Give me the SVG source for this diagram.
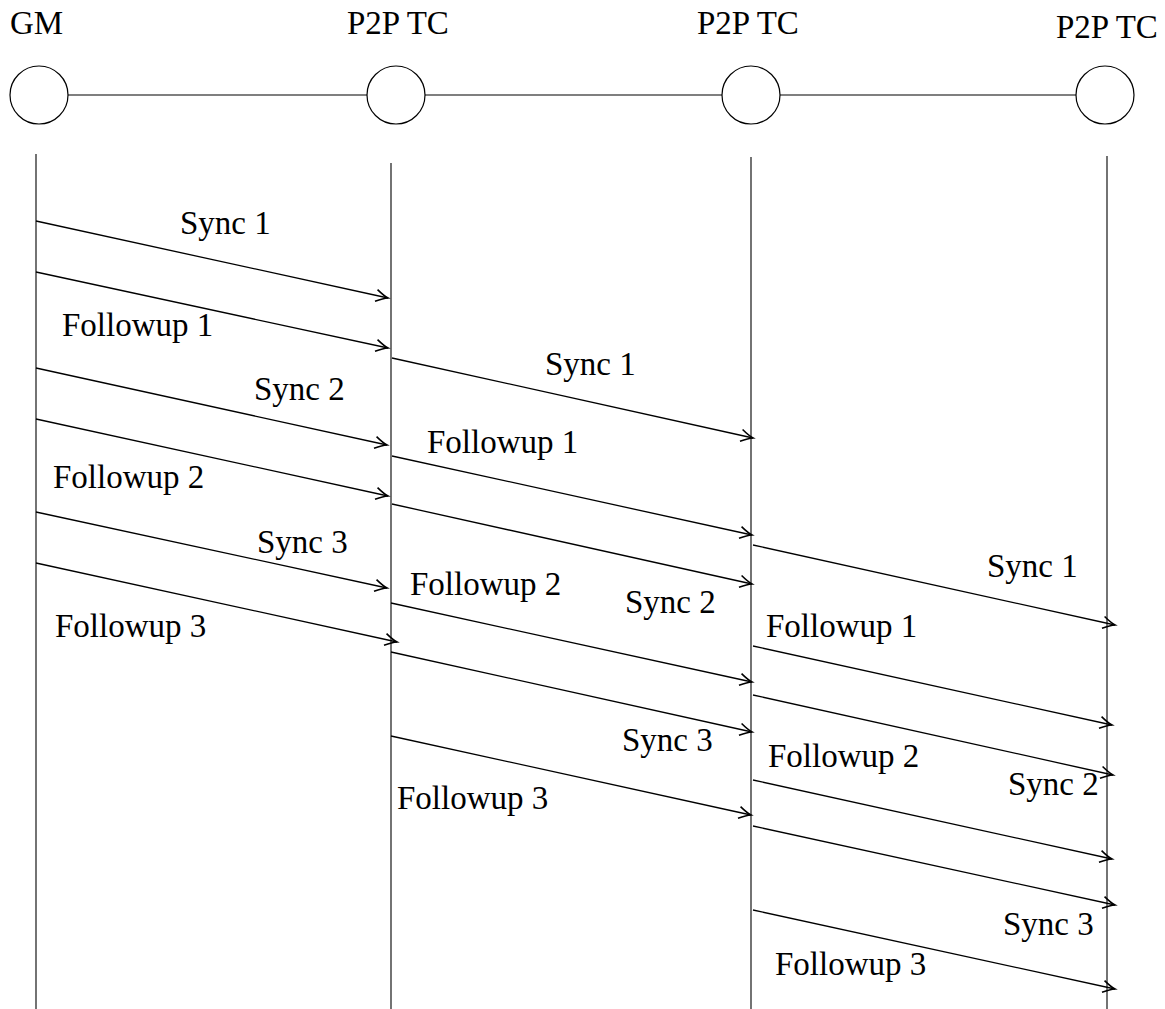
<svg xmlns="http://www.w3.org/2000/svg" width="1165" height="1009" viewBox="0 0 1165 1009">
<style>
text{font-family:"Liberation Serif","Times New Roman",Times,serif;font-size:33px;fill:#000}
.node{fill:#fff;stroke:#000;stroke-width:1.2}
.life{stroke:#000;stroke-width:1.1;fill:none}
.link{stroke:#000;stroke-width:1.2;fill:none}
.msg{stroke:#000;stroke-width:1.3;fill:none;marker-end:url(#ah)}
</style>
<defs>
<marker id="ah" markerUnits="userSpaceOnUse" markerWidth="18" markerHeight="16" viewBox="-15 -8 18 16" refX="0" refY="0" orient="auto">
<path d="M-12,-6 Q-4.5,-1.3 0,0 Q-4.5,1.3 -12,6" fill="none" stroke="#000" stroke-width="1.6"/>
</marker>
</defs>
<rect width="1165" height="1009" fill="#fff"/>
<g id="GM">
<text x="10" y="34">GM</text>
<circle class="node" cx="39" cy="95" r="29"/>
<line class="life" x1="36" y1="154" x2="36" y2="1009"/>
</g>
<g id="TC1">
<text x="347" y="34">P2P TC</text>
<circle class="node" cx="396" cy="95" r="29"/>
<line class="life" x1="391" y1="163" x2="391" y2="1009"/>
</g>
<g id="TC2">
<text x="697" y="34">P2P TC</text>
<circle class="node" cx="751" cy="95" r="29"/>
<line class="life" x1="751" y1="157" x2="751" y2="1009"/>
</g>
<g id="TC3">
<text x="1056" y="38">P2P TC</text>
<circle class="node" cx="1105" cy="95" r="29"/>
<line class="life" x1="1107" y1="156" x2="1107" y2="1009"/>
</g>
<g id="connectors">
<line class="link" x1="68" y1="95" x2="367" y2="95"/>
<line class="link" x1="425" y1="95" x2="722" y2="95"/>
<line class="link" x1="780" y1="95" x2="1076" y2="95"/>
<line class="msg" x1="36" y1="221" x2="388" y2="298"/>
<line class="msg" x1="36" y1="272" x2="388" y2="348"/>
<line class="msg" x1="36" y1="368" x2="387" y2="445"/>
<line class="msg" x1="36" y1="419" x2="388" y2="496"/>
<line class="msg" x1="36" y1="512" x2="387" y2="588"/>
<line class="msg" x1="36" y1="563" x2="397" y2="642"/>
<line class="msg" x1="392" y1="358" x2="753" y2="438"/>
<line class="msg" x1="392" y1="456" x2="752" y2="535"/>
<line class="msg" x1="392" y1="504" x2="752" y2="584"/>
<line class="msg" x1="391" y1="603" x2="752" y2="682"/>
<line class="msg" x1="391" y1="652" x2="752" y2="732"/>
<line class="msg" x1="391" y1="736" x2="751" y2="815"/>
<line class="msg" x1="753" y1="545" x2="1115" y2="625"/>
<line class="msg" x1="753" y1="646" x2="1112" y2="725"/>
<line class="msg" x1="753" y1="695" x2="1113" y2="775"/>
<line class="msg" x1="753" y1="780" x2="1112" y2="859"/>
<line class="msg" x1="753" y1="826" x2="1115" y2="905"/>
<line class="msg" x1="753" y1="910" x2="1115" y2="989"/>
</g>
<g id="labels">
<text x="180" y="234">Sync 1</text>
<text x="62" y="336">Followup 1</text>
<text x="254" y="400">Sync 2</text>
<text x="53" y="488">Followup 2</text>
<text x="257" y="553">Sync 3</text>
<text x="55" y="637">Followup 3</text>
<text x="545" y="375">Sync 1</text>
<text x="427" y="453">Followup 1</text>
<text x="410" y="595">Followup 2</text>
<text x="625" y="613">Sync 2</text>
<text x="622" y="751">Sync 3</text>
<text x="397" y="809">Followup 3</text>
<text x="987" y="577">Sync 1</text>
<text x="766" y="637">Followup 1</text>
<text x="768" y="767">Followup 2</text>
<text x="1008" y="795">Sync 2</text>
<text x="1003" y="935">Sync 3</text>
<text x="775" y="975">Followup 3</text>
</g>
</svg>
